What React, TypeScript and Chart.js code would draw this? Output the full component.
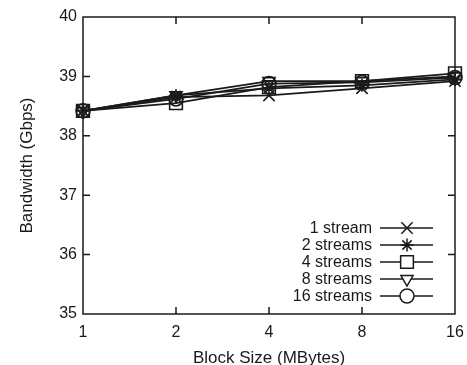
import React, { useEffect, useRef } from "react";
import { Chart, registerables } from "chart.js";
import { drawPoint } from "chart.js/helpers";

Chart.register(...registerables);

const blockSizes = ["1", "2", "4", "8", "16"];
const yTicks = [35, 36, 37, 38, 39, 40];

const stream1 = [38.42, 38.65, 38.68, 38.8, 38.92];
const stream2 = [38.42, 38.68, 38.8, 38.85, 38.95];
const stream4 = [38.42, 38.55, 38.82, 38.92, 39.05];
const stream8 = [38.42, 38.68, 38.92, 38.92, 39.0];
const stream16 = [38.42, 38.62, 38.88, 38.9, 38.98];

const seriesLabels = ["1 stream", "2 streams", "4 streams", "8 streams", "16 streams"];
const seriesData = [stream1, stream2, stream4, stream8, stream16];
const pointStyles: any[] = ["crossRot", "star", "rect", "triangle", "circle"];
const rotations = [0, 0, 0, 180, 0];
const radii = [8, 6.5, 9, 7, 7];

const FONT = "'Liberation Sans', Arial, Helvetica, sans-serif";
const INK = "#1a1a1a";

const framePlugin = {
  id: "frameAndLegend",
  afterDatasetsDraw(chart: any) {
    const { ctx, chartArea } = chart;
    const { left, right, top, bottom } = chartArea;
    const xs = chart.scales.x;
    const ys = chart.scales.y;
    ctx.save();
    ctx.strokeStyle = INK;
    ctx.lineWidth = 1.5;
    ctx.strokeRect(left, top, right - left, bottom - top);
    const tl = 7;
    ctx.beginPath();
    for (let i = 1; i < blockSizes.length - 1; i++) {
      const x = xs.getPixelForTick(i);
      ctx.moveTo(x, bottom);
      ctx.lineTo(x, bottom - tl);
      ctx.moveTo(x, top);
      ctx.lineTo(x, top + tl);
    }
    for (let i = 1; i < yTicks.length - 1; i++) {
      const y = ys.getPixelForValue(yTicks[i]);
      ctx.moveTo(left, y);
      ctx.lineTo(left + tl, y);
      ctx.moveTo(right, y);
      ctx.lineTo(right - tl, y);
    }
    ctx.stroke();

    // legend
    const rowY0 = 228;
    const rowH = 17;
    const textRight = 372;
    const lineX0 = 380;
    const lineX1 = 433;
    ctx.font = `16px ${FONT}`;
    ctx.textAlign = "right";
    ctx.textBaseline = "middle";
    chart.data.datasets.forEach((ds: any, i: number) => {
      const y = rowY0 + i * rowH;
      ctx.fillStyle = INK;
      ctx.fillText(ds.label, textRight, y + 1);
      ctx.beginPath();
      ctx.strokeStyle = INK;
      ctx.lineWidth = 1.6;
      ctx.moveTo(lineX0, y);
      ctx.lineTo(lineX1, y);
      ctx.stroke();
      ctx.lineWidth = 1.5;
      ctx.fillStyle = "#fff";
      drawPoint(ctx, { pointStyle: pointStyles[i], radius: radii[i], rotation: rotations[i], borderWidth: 1.5 } as any, 407, y);
    });
    ctx.restore();
  },
};

export default function App() {
  const ref = useRef<HTMLCanvasElement | null>(null);
  useEffect(() => {
    if (!ref.current) return;
    const chart = new Chart(ref.current, {
      type: "line",
      data: {
        labels: blockSizes,
        datasets: seriesData.map((d, i) => ({
          label: seriesLabels[i],
          data: d,
          borderColor: INK,
          borderWidth: 1.8,
          pointStyle: pointStyles[i],
          pointRotation: rotations[i],
          pointRadius: radii[i],
          pointBorderWidth: 1.6,
          pointBorderColor: INK,
          pointBackgroundColor: "rgba(255,255,255,0)",
          tension: 0,
          fill: false,
        })),
      },
      options: {
        animation: false,
        responsive: false,
        maintainAspectRatio: false,
        layout: { padding: { top: 17, right: 12, left: 0, bottom: 0 } },
        plugins: { legend: { display: false }, tooltip: { enabled: false } },
        scales: {
          x: {
            type: "category",
            offset: false,
            grid: { display: false, drawTicks: false },
            border: { display: false },
            ticks: { color: INK, font: { family: FONT, size: 16 }, padding: 9, maxRotation: 0 },
            title: { display: true, text: "Block Size (MBytes)", color: INK, font: { family: FONT, size: 17 }, padding: { top: 4, bottom: -4 } },
            afterFit(scale: any) { scale.height = 51; scale.paddingRight = 0; scale.paddingLeft = 0; },
          },
          y: {
            min: 35,
            max: 40,
            grid: { display: false, drawTicks: false },
            border: { display: false },
            afterBuildTicks(scale: any) { scale.ticks = yTicks.map((v) => ({ value: v })); },
            ticks: { color: INK, font: { family: FONT, size: 16 }, padding: 6 },
            title: { display: true, text: "Bandwidth (Gbps)", color: INK, font: { family: FONT, size: 17 }, padding: { top: 17, bottom: 10 } },
            afterFit(scale: any) { scale.width = 83; scale.paddingTop = 0; scale.paddingBottom = 0; },
          },
        },
      },
      plugins: [framePlugin],
    } as any);
    return () => chart.destroy();
  }, []);
  return (
    <div style={{ position: "absolute", left: 0, top: 0, width: 467, height: 365, background: "#fff" }}>
      <canvas ref={ref} width={467} height={365} style={{ display: "block" }} />
    </div>
  );
}
